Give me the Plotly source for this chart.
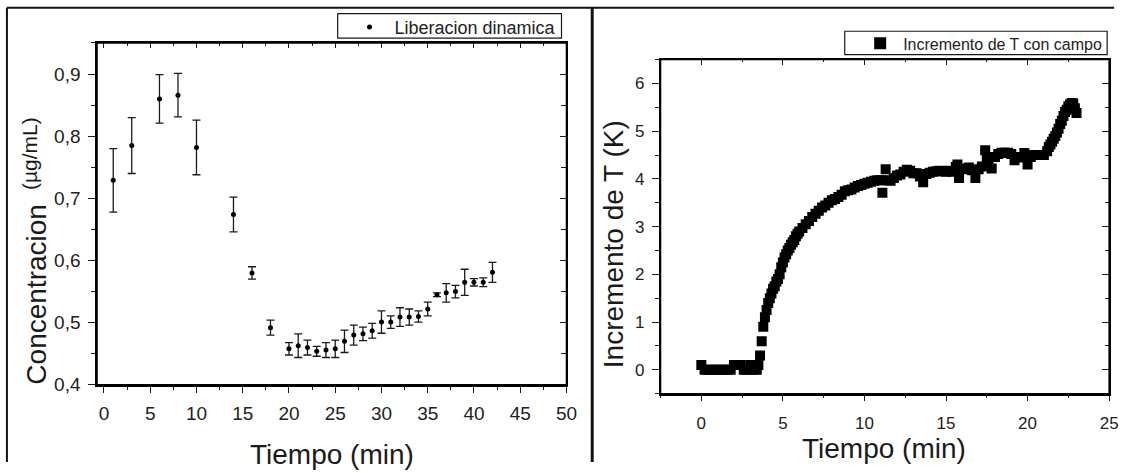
import plotly.graph_objects as go

W, H = 1135, 473

# --- Liberacion dinamica: concentration vs time, with error bars ---
t_rel = [1, 3, 6, 8, 10, 14, 16, 18, 20, 21, 22, 23, 24, 25, 26, 27, 28, 29,
         30, 31, 32, 33, 34, 35, 36, 37, 38, 39, 40, 41, 42]
conc = [0.729, 0.785, 0.860, 0.866, 0.782, 0.674, 0.580, 0.492, 0.458, 0.463,
        0.460, 0.454, 0.456, 0.458, 0.470, 0.480, 0.482, 0.487, 0.501, 0.501,
        0.509, 0.509, 0.510, 0.522, 0.545, 0.548, 0.550, 0.565, 0.565, 0.565,
        0.581]
conc_err = [0.051, 0.045, 0.039, 0.035, 0.044, 0.028, 0.010, 0.012, 0.010,
            0.019, 0.012, 0.008, 0.012, 0.014, 0.018, 0.016, 0.011, 0.012,
            0.018, 0.010, 0.015, 0.013, 0.009, 0.011, 0.003, 0.015, 0.010,
            0.021, 0.006, 0.007, 0.016]

# --- Incremento de T con campo: temperature rise vs time ---
t_heat = [0.0, 0.2, 0.4, 0.6, 0.8, 1.0, 1.2, 1.4, 1.6, 1.8, 2.0, 2.2, 2.4,
          2.6, 2.8, 3.0, 3.2, 3.4,
          3.5, 3.6, 3.7, 3.8, 3.9, 4.0, 4.1, 4.2, 4.3, 4.4, 4.5, 4.6, 4.7,
          4.8, 4.9, 5.0, 5.1, 5.2, 5.3, 5.4, 5.5, 5.6, 5.7, 5.8, 5.9, 6.0,
          6.2, 6.4, 6.6, 6.8, 7.0, 7.2, 7.4, 7.6, 7.8, 8.0, 8.2, 8.4, 8.6,
          8.8, 9.0, 9.2, 9.4, 9.6, 9.8, 10.0, 10.2, 10.4, 10.6, 10.8, 11.0,
          11.1, 11.3, 11.4, 11.6, 11.8, 12.0, 12.2, 12.4, 12.6, 12.8, 13.0,
          13.2, 13.4, 13.6, 13.8, 14.0, 14.2, 14.4, 14.6, 14.8, 15.0, 15.2,
          15.4, 15.6, 15.7, 15.8, 16.0, 16.2, 16.4, 16.6, 16.8, 17.0, 17.2,
          17.4, 17.5, 17.6, 17.8, 18.0, 18.2, 18.4, 18.6, 18.8, 19.0, 19.2,
          19.4, 19.6, 19.8, 20.0, 20.2, 20.4, 20.6, 20.8, 21.0, 21.2,
          21.3, 21.4, 21.5, 21.6, 21.7, 21.8, 21.9, 22.0, 22.1, 22.2, 22.3,
          22.4, 22.5, 22.6, 22.7, 22.8, 22.9, 23.0]
dT = [0.10, 0.00, 0.00, 0.00, 0.00, 0.00, 0.00, 0.00, 0.00, 0.00, 0.10, 0.10,
      0.10, 0.00, 0.00, 0.10, 0.00, 0.00,
      0.10, 0.30, 0.60, 0.90, 1.10, 1.25, 1.40, 1.50, 1.60, 1.70, 1.75, 1.85,
      1.90, 2.00, 2.15, 2.25, 2.35, 2.42, 2.50, 2.55, 2.62, 2.67, 2.72, 2.80,
      2.85, 2.90,
      2.97, 3.05, 3.12, 3.20, 3.27, 3.33, 3.40, 3.44, 3.50, 3.55, 3.58, 3.62,
      3.67, 3.74, 3.76, 3.78, 3.82, 3.85, 3.87, 3.90, 3.92, 3.94, 3.96, 3.97,
      3.97, 3.71, 4.20, 3.97, 3.96, 4.02, 4.07, 4.09, 4.15, 4.19, 4.17, 4.12,
      4.12, 4.05, 3.93, 4.10, 4.13, 4.15, 4.16, 4.17, 4.16, 4.15, 4.17, 4.15,
      4.25, 4.30, 4.02, 4.20, 4.22, 4.24, 4.18, 4.02, 4.20, 4.26, 4.60, 4.43,
      4.35, 4.22, 4.46, 4.52, 4.55, 4.55, 4.55, 4.52, 4.39, 4.45, 4.46, 4.54,
      4.30, 4.46, 4.50, 4.50, 4.50, 4.50, 4.58,
      4.67, 4.72, 4.78, 4.84, 4.90, 4.97, 5.05, 5.15, 5.22, 5.32, 5.40, 5.45,
      5.52, 5.56, 5.59, 5.58, 5.48, 5.38]

INK = "#1a1a1a"
FONT = "Arial, Liberation Sans, sans-serif"


def fx(px):
    return px / W


def fy(py):
    return 1 - py / H


def axis(rng, dtick, minor_dtick, ticks, ticklen, minorlen, side=None,
         labels=True, fsize=19, **kw):
    d = dict(range=rng, tick0=0, dtick=dtick, ticks=ticks, ticklen=ticklen,
             tickwidth=1.3, tickcolor=INK,
             showgrid=False, zeroline=False,
             showticklabels=labels,
             tickfont=dict(family=FONT, size=fsize, color="#222"),
             minor=dict(dtick=minor_dtick, ticks=ticks, ticklen=minorlen,
                        tickwidth=1.2, tickcolor=INK, showgrid=False),
             fixedrange=True)
    if side:
        d["side"] = side
    d.update(kw)
    return d


fig = go.Figure()

fig.add_trace(go.Scatter(
    x=t_rel, y=conc, mode="markers", name="Liberacion dinamica",
    marker=dict(color="black", size=5),
    error_y=dict(type="data", array=conc_err, visible=True, color=INK,
                 thickness=1.3, width=4),
    xaxis="x", yaxis="y", legend="legend"))

fig.add_trace(go.Scatter(
    x=t_heat, y=dT, mode="markers", name="Incremento de T con campo",
    marker=dict(color="black", size=10, symbol="square",
                line=dict(width=0)),
    xaxis="x2", yaxis="y2", legend="legend2"))

# transparent copies that carry the mirrored (inward-tick) top/right axes
fig.add_trace(go.Scatter(x=t_rel, y=conc, mode="markers", xaxis="x3",
                         yaxis="y3", marker_opacity=0, showlegend=False,
                         hoverinfo="skip"))
fig.add_trace(go.Scatter(x=t_heat, y=dT, mode="markers", xaxis="x4",
                         yaxis="y4", marker_opacity=0, showlegend=False,
                         hoverinfo="skip"))

L_box = (98, 572, 44, 394)     # left, right, top, bottom (px)
R_box = (667, 1120, 61, 403)
L_dom_x = [fx(L_box[0]), fx(L_box[1])]
L_dom_y = [fy(L_box[3]), fy(L_box[2])]
R_dom_x = [fx(R_box[0]), fx(R_box[1])]
R_dom_y = [fy(R_box[3]), fy(R_box[2])]

line_kw = dict(showline=True, linecolor="black", linewidth=1.5)

fig.update_layout(
    width=W, height=H,
    margin=dict(l=0, r=0, t=0, b=0),
    paper_bgcolor="white", plot_bgcolor="rgba(0,0,0,0)",
    separators=",.",
    font=dict(family=FONT, color="#222"),
    # left panel
    xaxis=axis([-0.75, 50], 5, 2.5, "outside", 6, 3, domain=L_dom_x,
               anchor="y", ticklabelstandoff=5, **line_kw),
    yaxis=axis([0.4, 0.95], 0.1, 0.05, "outside", 7, 4, domain=L_dom_y,
               anchor="x", tickformat=".1f", ticklabelstandoff=4, **line_kw),
    xaxis3=axis([-0.75, 50], 5, 2.5, "inside", 5, 3, side="top",
                labels=False, overlaying="x", anchor="y3", **line_kw),
    yaxis3=axis([0.4, 0.95], 0.1, 0.05, "inside", 7, 6, side="right",
                labels=False, overlaying="y", anchor="x3", **line_kw),
    # right panel
    xaxis2=axis([-2.5, 25], 5, 2.5, "outside", 6, 3, domain=R_dom_x,
                anchor="y2", fsize=17, ticklabelstandoff=7, **line_kw),
    yaxis2=axis([-0.5, 6.5], 1, 0.5, "outside", 7, 4, domain=R_dom_y,
                anchor="x2", fsize=17, ticklabelstandoff=4, **line_kw),
    xaxis4=axis([-2.5, 25], 5, 2.5, "inside", 6, 3, side="top",
                labels=False, overlaying="x2", anchor="y4", **line_kw),
    yaxis4=axis([-0.5, 6.5], 1, 0.5, "inside", 7, 4, side="right",
                labels=False, overlaying="y2", anchor="x4", **line_kw),
    legend=dict(x=fx(567), y=fy(9), xanchor="right", yanchor="top",
                bgcolor="rgba(0,0,0,0)", borderwidth=0,
                font=dict(family=FONT, size=18, color="#222"),
                itemwidth=40, tracegroupgap=0),
    legend2=dict(x=fx(1118), y=fy(27), xanchor="right", yanchor="top",
                 bgcolor="rgba(0,0,0,0)", borderwidth=0,
                 font=dict(family=FONT, size=16, color="#222"),
                 itemwidth=36, itemsizing="constant", tracegroupgap=0),
    showlegend=True,
)

annotations = [
    dict(text="Tiempo (min)", x=fx(335), y=fy(465), font_size=28),
    dict(text="Tiempo (min)", x=fx(893), y=fy(459), font_size=28),
    dict(text="Concentracion", x=fx(36), y=fy(301), font_size=28,
         textangle=-90),
    dict(text="(µg/mL)", x=fx(30), y=fy(157), font_size=21, textangle=-90),
    dict(text="Incremento de T (K)", x=fx(619), y=fy(250), font_size=28,
         textangle=-90),
]
for a in annotations:
    fig.add_annotation(xref="paper", yref="paper", showarrow=False,
                       xanchor="center", yanchor="middle",
                       font=dict(family=FONT, size=a.pop("font_size"),
                                 color="#1a1a1a"),
                       **a)

# legend frames
for x0, x1, y0, y1 in ((341, 567, 14, 39), (853, 1118, 32, 56)):
    fig.add_shape(type="rect", xref="paper", yref="paper",
                  x0=fx(x0), x1=fx(x1), y0=fy(y1), y1=fy(y0),
                  line=dict(color=INK, width=1.2), fillcolor="rgba(0,0,0,0)")

# outer frame of the two panels
frame = [
    dict(x0=fx(7), x1=fx(1125), y0=fy(8), y1=fy(8), w=2),
    dict(x0=fx(7), x1=fx(7), y0=fy(8), y1=0, w=2),
    dict(x0=fx(598), x1=fx(598), y0=fy(8), y1=0, w=3),
]
for s in frame:
    fig.add_shape(type="line", xref="paper", yref="paper",
                  x0=s["x0"], x1=s["x1"], y0=s["y0"], y1=s["y1"],
                  line=dict(color="#111", width=s["w"]))

# plot-area boxes, as explicit edge segments on top of everything
for l, r, t, b in (L_box, R_box):
    for x0, y0, x1, y1 in ((l, t, r, t), (l, b, r, b), (l, t, l, b),
                           (r, t, r, b)):
        fig.add_shape(type="line", xref="paper", yref="paper",
                      x0=fx(x0), y0=fy(y0), x1=fx(x1), y1=fy(y1),
                      line=dict(color="black", width=1.5), layer="above")

fig.write_html("out.html")
